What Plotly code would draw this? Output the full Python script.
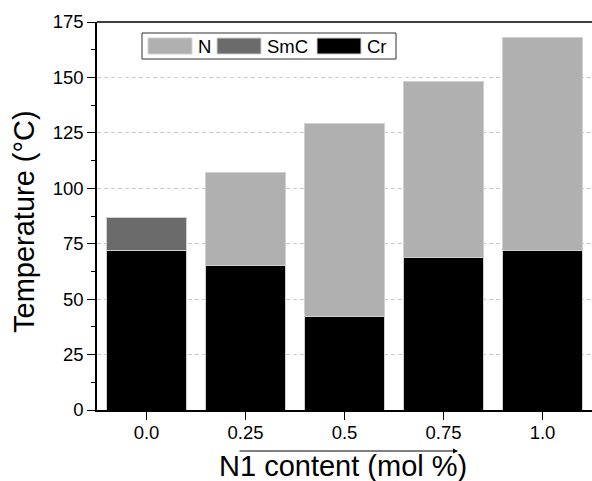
import plotly.graph_objects as go

categories = ["0.0", "0.25", "0.5", "0.75", "1.0"]
cr_values = [72, 65, 42, 69, 72]
smc_values = [15, 0, 0, 0, 0]
n_values = [0, 42, 87, 79, 96]

FONT = "Liberation Sans, Arial, sans-serif"
edge = dict(color="#d0d0d0", width=1)
COL_N, COL_SMC, COL_CR = "#b0b0b0", "#6b6b6b", "#000000"

L, R, T, B, W, H = 97, 0, 22, 71, 592, 481
PW, PH = W - L - R, H - T - B


def px(x):
    return (x - L) / PW


def py(y):
    return (H - B - y) / PH


fig = go.Figure()
fig.add_trace(go.Bar(x=categories, y=cr_values, name="Cr", marker=dict(color=COL_CR, line=edge), width=0.81))
fig.add_trace(go.Bar(x=categories, y=smc_values, name="SmC", marker=dict(color=COL_SMC, line=edge), width=0.81))
fig.add_trace(go.Bar(x=categories, y=n_values, name="N", marker=dict(color=COL_N, line=edge), width=0.81))

fig.update_layout(
    barmode="stack",
    width=W, height=H,
    margin=dict(l=L, r=R, t=T, b=B),
    plot_bgcolor="white", paper_bgcolor="white",
    font=dict(family=FONT, color="black", size=18.5),
    showlegend=False,
    xaxis=dict(
        type="category", range=[-0.5, 4.5], automargin=False,
        showline=True, linecolor="black", linewidth=1.5,
        ticks="outside", ticklen=8, tickcolor="black",
        tickfont=dict(size=18.5), ticklabelstandoff=-3,
    ),
    yaxis=dict(
        range=[0, 175], tickvals=[0, 25, 50, 75, 100, 125, 150, 175], automargin=False,
        showline=True, linecolor="black", linewidth=1.5,
        ticks="outside", ticklen=8, tickcolor="black",
        tickfont=dict(size=18.5),
        minor=dict(ticks="outside", ticklen=4, tickcolor="black", dtick=12.5, showgrid=False),
        showgrid=True, gridcolor="#cccccc", griddash="4px,3px", gridwidth=1,
        zeroline=False,
    ),
)

# top frame line
fig.add_shape(type="line", xref="paper", yref="paper", x0=0, x1=1, y0=1, y1=1,
              line=dict(color="black", width=1.5))

# axis titles
fig.add_annotation(xref="paper", yref="paper", x=px(342.5), y=py(466), text="N1 content (mol %)",
                   showarrow=False, font=dict(size=29), xanchor="center", yanchor="middle")
fig.add_annotation(xref="paper", yref="paper", x=px(24), y=py(222), text="Temperature (°C)",
                   showarrow=False, font=dict(size=29), textangle=-90, xanchor="center", yanchor="middle")

# arrow under x axis
fig.add_annotation(xref="paper", yref="paper", x=px(458), y=py(451), ax=-(458 - 238), ay=0,
                   axref="pixel", ayref="pixel", text="", showarrow=True,
                   arrowhead=2, arrowsize=1, arrowwidth=1, arrowcolor="black")

# legend box
fig.add_shape(type="rect", xref="paper", yref="paper", x0=px(142), x1=px(396), y0=py(33), y1=py(59),
              line=dict(color="#333333", width=1), fillcolor="white", layer="above")
legend_items = [("N", COL_N, 148), ("SmC", COL_SMC, 217), ("Cr", COL_CR, 317)]
for label, col, x0 in legend_items:
    fig.add_shape(type="rect", xref="paper", yref="paper", x0=px(x0), x1=px(x0 + 44),
                  y0=py(38), y1=py(54), line=dict(color="#d0d0d0", width=1), fillcolor=col, layer="above")
    fig.add_annotation(xref="paper", yref="paper", x=px(x0 + 48), y=py(46), text=label,
                       showarrow=False, font=dict(size=18.5), xanchor="left", yanchor="middle")

fig.write_html("out.html", config={"displayModeBar": False},
               post_script="document.body.style.margin='0';")
